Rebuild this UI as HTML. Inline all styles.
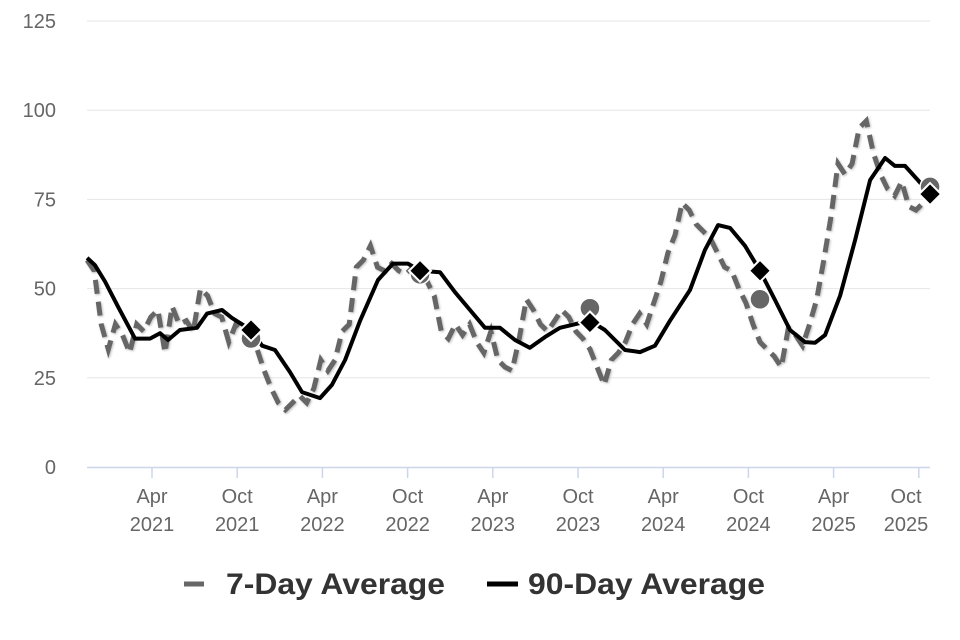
<!DOCTYPE html>
<html><head><meta charset="utf-8"><style>
html,body{margin:0;padding:0;background:#fff;width:960px;height:640px;overflow:hidden}
svg{font-family:"Liberation Sans",sans-serif}
</style></head><body>
<svg id="chart" width="960" height="640">
<defs><filter id="sh" x="-5%" y="-5%" width="110%" height="110%"><feDropShadow dx="1" dy="1" stdDeviation="1" flood-color="#000" flood-opacity="0.25"/></filter></defs>
<g id="grid"></g>
<g id="xaxis"></g>
<g id="series"></g>
<g>
<g>
<line x1="184" y1="584" x2="204" y2="584" stroke="#666" stroke-width="5"/>
<text x="226" y="594" font-size="30" font-weight="bold" fill="#333" textLength="219" lengthAdjust="spacingAndGlyphs">7-Day Average</text></g>
<g>
<line x1="487" y1="584" x2="518" y2="584" stroke="#000" stroke-width="5"/>
<text x="528" y="594" font-size="30" font-weight="bold" fill="#333" textLength="237" lengthAdjust="spacingAndGlyphs">90-Day Average</text></g>
</g>
</svg>
<script>
const yTicks=[0,25,50,75,100,125];
const xTickLabels=[["Apr","2021",2021.247],["Oct","2021",2021.747],["Apr","2022",2022.247],["Oct","2022",2022.747],["Apr","2023",2023.247],["Oct","2023",2023.747],["Apr","2024",2024.247],["Oct","2024",2024.747],["Apr","2025",2025.247],["Oct","2025",2025.747]];
const sevenStart=2020.866, sevenEnd=2025.813;
const sevenDay=[58,55,40,33,40,37,32,40,38,42,44,32,45,40,41,38,50,48,43,42,35,40,38,36,33,27,22,18,16,18,20,18,22,30,27,30,38,40,56,58,62,56,55,57,55,54,56,55,52,48,38,36,40,37,40,35,32,38,30,28,27,36,47,44,40,38,41,44,42,38,36,33,28,23,30,32,35,40,43,40,46,52,60,65,74,72,68,66,64,60,56,55,50,46,40,35,33,31,28,39,37,34,40,47,58,70,85,82,85,95,97,88,82,78,76,80,73,72,74,78];
const ninetyDates=[2020.866,2020.912,2020.971,2021.047,2021.147,2021.235,2021.294,2021.341,2021.411,2021.511,2021.570,2021.658,2021.716,2021.828,2021.893,2021.969,2022.057,2022.127,2022.233,2022.303,2022.380,2022.468,2022.573,2022.661,2022.749,2022.820,2022.937,2023.025,2023.113,2023.201,2023.289,2023.377,2023.465,2023.553,2023.641,2023.817,2023.905,2024.023,2024.111,2024.199,2024.287,2024.404,2024.492,2024.569,2024.639,2024.727,2024.815,2024.903,2024.991,2025.079,2025.138,2025.197,2025.285,2025.373,2025.461,2025.549,2025.607,2025.666,2025.742,2025.813];
const ninetyDay=[58.6,56.6,52,45,36,36,37.5,35.6,38.4,39,43,44,41.8,38.4,34,32.8,26.6,21,19.3,23,30,41,52.4,57,57,55,54.6,49,44,39,39,35.6,33.4,36.4,39,41,38.4,32.8,32.2,34,41,49.6,60.8,67.8,67,62,55,46.8,38.4,35,34.8,37,48,63.6,80.4,86.6,84.4,84.4,80.4,76.5];
const markerDates=[2021.828,2022.820,2023.817,2024.815,2025.813];
const markerSeven=[36,54,44.5,47,78.5];
const markerNinety=[38.4,55,40.5,55,76.5];

const NS="http://www.w3.org/2000/svg";
const X=t=>152+(t-2021.247)*170.4;
const Y=v=>467-v*3.568;
function mk(tag,attrs,parent){const e=document.createElementNS(NS,tag);for(const k in attrs)e.setAttribute(k,attrs[k]);parent.appendChild(e);return e;}
const grid=document.getElementById('grid'),xa=document.getElementById('xaxis'),ser=document.getElementById('series');
yTicks.forEach(v=>{
  if(v>0){const l=mk('line',{x1:87,x2:930,y1:Y(v),y2:Y(v),stroke:'#e6e6e6','stroke-width':1},grid);
  
  }
  const t=mk('text',{x:56,y:Y(v)+7,'text-anchor':'end','font-size':20,fill:'#666'},grid);t.textContent=v;
  
  
});
const ax=mk('line',{x1:87,x2:930,y1:467.5,y2:467.5,stroke:'#ccd6eb','stroke-width':1.5},xa);


xTickLabels.forEach(([m,y,t])=>{
  const x=X(t);
  mk('line',{x1:x,x2:x,y1:467,y2:478,stroke:'#ccd6eb','stroke-width':1.5},xa);
  const lx=Math.min(x,906);
  const a=mk('text',{x:lx,y:503,'text-anchor':'middle','font-size':20,fill:'#666'},xa);a.textContent=m;
  
  
  const b=mk('text',{x:lx,y:531,'text-anchor':'middle','font-size':20,fill:'#666'},xa);b.textContent=y;
  
  
});
const step=(sevenEnd-sevenStart)/(sevenDay.length-1);
const p7=sevenDay.map((v,i)=>X(sevenStart+i*step).toFixed(1)+','+Y(v).toFixed(1)).join(' ');
const p90=ninetyDay.map((v,i)=>X(ninetyDates[i]).toFixed(1)+','+Y(v).toFixed(1)).join(' ');
const l7=mk('polyline',{points:p7,fill:'none',stroke:'#666','stroke-width':5,'stroke-dasharray':'14,8',filter:'url(#sh)'},ser);


const l90=mk('polyline',{points:p90,fill:'none',stroke:'#000','stroke-width':4,'stroke-linejoin':'round'},ser);


markerDates.forEach((t,i)=>{
  const c=mk('circle',{cx:X(t),cy:Y(markerSeven[i]),r:10,fill:'#666',stroke:'#fff','stroke-width':1.5},ser);
  
  
  const x=X(t),y=Y(markerNinety[i]);
  const d=mk('polygon',{points:`${x},${y-11} ${x+11},${y} ${x},${y+11} ${x-11},${y}`,fill:'#000',stroke:'#fff','stroke-width':2},ser);
  
  
});
</script>
</body></html>
